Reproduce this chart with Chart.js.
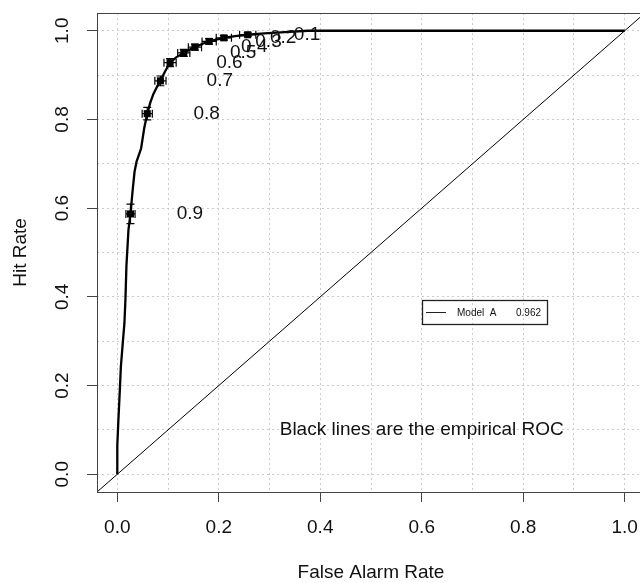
<!DOCTYPE html>
<html>
<head>
<meta charset="utf-8">
<script src="https://cdn.jsdelivr.net/npm/chart.js@4/dist/chart.umd.min.js"></script>
<style>
html,body{margin:0;padding:0;background:#fff;overflow:hidden;width:640px;height:583px;}
#wrap{position:absolute;left:0;top:0;width:660px;height:583px;}
</style>
</head>
<body>
<div id="wrap"><canvas id="c" width="660" height="583"></canvas></div>
<script>
// ---- data ----
const curveFar = [0, 0, 0.002, 0.005, 0.007, 0.011, 0.014, 0.016, 0.018, 0.022, 0.026, 0.030, 0.034, 0.038, 0.047, 0.053, 0.059, 0.065, 0.071, 0.078, 0.085, 0.094, 0.104, 0.116, 0.131, 0.142, 0.153, 0.167, 0.181, 0.195, 0.210, 0.232, 0.257, 0.290, 0.330, 0.375, 1.0];
const curveHit = [0, 0.065, 0.118, 0.190, 0.242, 0.299, 0.340, 0.393, 0.470, 0.551, 0.587, 0.637, 0.682, 0.705, 0.735, 0.780, 0.813, 0.838, 0.857, 0.873, 0.887, 0.908, 0.928, 0.940, 0.950, 0.957, 0.963, 0.970, 0.976, 0.980, 0.984, 0.988, 0.991, 0.994, 0.997, 1.0, 1.0];

const thresholdLabels = ['0.9', '0.8', '0.7', '0.6', '0.5', '0.4', '0.3', '0.2', '0.1'];
const thresholdFar = [0.026, 0.059, 0.085, 0.104, 0.131, 0.153, 0.181, 0.210, 0.257];
const thresholdHit = [0.587, 0.813, 0.887, 0.928, 0.950, 0.963, 0.976, 0.984, 0.991];
const hitLower = [0.565, 0.799, 0.876, 0.919, 0.942, 0.956, 0.970, 0.979, 0.987];
const hitUpper = [0.609, 0.827, 0.898, 0.937, 0.958, 0.970, 0.982, 0.989, 0.995];
const farLower = [0.017, 0.049, 0.074, 0.092, 0.119, 0.140, 0.167, 0.195, 0.241];
const farUpper = [0.035, 0.069, 0.096, 0.116, 0.143, 0.166, 0.195, 0.225, 0.273];

const gridTicks = [0, 0.1, 0.2, 0.3, 0.4, 0.5, 0.6, 0.7, 0.8, 0.9, 1.0];
const labelledTicks = ['0.0', '0.2', '0.4', '0.6', '0.8', '1.0'];
const axisMin = -0.04, axisMax = 1.04;
const refLine = [axisMin, axisMax];

const legendModel = 'Model  A';
const legendAuc = '0.962';
const noteText = 'Black lines are the empirical ROC';
const xTitle = 'False Alarm Rate';
const yTitle = 'Hit Rate';

// ---- styling ----
const FONT = '"Liberation Sans", Arial, sans-serif';
const TEXT = '#111';
const LABEL_DX = 0.117;

const isLabelled = v => labelledTicks.includes(Number(v).toFixed(1));
const tickLabel = v => isLabelled(v) ? Number(v).toFixed(1) : '';
const tickCol = ctx => (ctx.tick && isLabelled(ctx.tick.value)) ? '#444' : 'rgba(0,0,0,0)';

const annotate = {
  id: 'annotate',
  afterDatasetsDraw(chart) {
    const {ctx, chartArea: a, scales: {x, y}} = chart;
    ctx.save();
    // error bars
    ctx.strokeStyle = '#000';
    ctx.lineWidth = 1.2;
    const cap = 4;
    thresholdFar.forEach((f, i) => {
      const px = x.getPixelForValue(f), py = y.getPixelForValue(thresholdHit[i]);
      const y1 = y.getPixelForValue(hitLower[i]), y2 = y.getPixelForValue(hitUpper[i]);
      const x1 = x.getPixelForValue(farLower[i]), x2 = x.getPixelForValue(farUpper[i]);
      ctx.beginPath();
      ctx.moveTo(px, y1); ctx.lineTo(px, y2);
      ctx.moveTo(px - cap, y1); ctx.lineTo(px + cap, y1);
      ctx.moveTo(px - cap, y2); ctx.lineTo(px + cap, y2);
      ctx.moveTo(x1, py); ctx.lineTo(x2, py);
      ctx.moveTo(x1, py - cap); ctx.lineTo(x1, py + cap);
      ctx.moveTo(x2, py - cap); ctx.lineTo(x2, py + cap);
      ctx.stroke();
    });
    // threshold labels
    ctx.fillStyle = TEXT;
    ctx.font = '19px ' + FONT;
    ctx.textAlign = 'center';
    ctx.textBaseline = 'middle';
    thresholdLabels.forEach((t, i) => {
      ctx.fillText(t, x.getPixelForValue(thresholdFar[i] + LABEL_DX), y.getPixelForValue(thresholdHit[i]));
    });
    // note
    ctx.fillText(noteText, x.getPixelForValue(0.6), y.getPixelForValue(0.1));
    // legend box
    const lx = Math.round(x.getPixelForValue(0.6)), ly = Math.round(y.getPixelForValue(0.393));
    ctx.strokeStyle = '#222';
    ctx.lineWidth = 1.3;
    ctx.strokeRect(lx + 0.5, ly + 0.5, 125, 24);
    ctx.lineWidth = 1;
    ctx.beginPath();
    ctx.moveTo(lx + 4, ly + 12.5); ctx.lineTo(lx + 24, ly + 12.5);
    ctx.stroke();
    ctx.font = '10px ' + FONT;
    ctx.textAlign = 'left';
    ctx.fillText(legendModel, lx + 35, ly + 13);
    ctx.fillText(legendAuc, lx + 94, ly + 13);
    // plot frame
    ctx.strokeStyle = '#444';
    ctx.lineWidth = 1;
    ctx.strokeRect(Math.round(a.left) + 0.5, Math.round(a.top) + 0.5, Math.round(a.right - a.left), Math.round(a.bottom - a.top));
    ctx.restore();
  }
};

new Chart(document.getElementById('c'), {
  type: 'scatter',
  data: {
    datasets: [
      {
        label: 'reference',
        data: refLine.map((v, i) => ({x: v, y: refLine[i]})),
        showLine: true, borderColor: '#000', borderWidth: 1, pointRadius: 0, fill: false
      },
      {
        label: 'empirical ROC',
        data: curveFar.map((f, i) => ({x: f, y: curveHit[i]})),
        showLine: true, borderColor: '#000', borderWidth: 2.3, pointRadius: 0, tension: 0, fill: false
      },
      {
        label: 'thresholds',
        data: thresholdFar.map((f, i) => ({x: f, y: thresholdHit[i]})),
        showLine: false, pointStyle: 'rect', pointRadius: 5, backgroundColor: '#000', borderColor: '#000', borderWidth: 0
      }
    ]
  },
  options: {
    responsive: false,
    animation: false,
    devicePixelRatio: 1,
    events: [],
    layout: {padding: {left: 0, top: 13, right: 15, bottom: 0}},
    plugins: {legend: {display: false}, tooltip: {enabled: false}},
    scales: {
      x: {
        type: 'linear', position: 'bottom', min: axisMin, max: axisMax,
        afterBuildTicks: s => { s.ticks = gridTicks.map(v => ({value: v})); },
        afterFit: s => { s.height = 91; s.paddingLeft = 0; s.paddingRight = 0; },
        grid: {color: '#cccccc', lineWidth: 1, drawTicks: true, tickLength: 10, tickWidth: 1, tickColor: tickCol, tickBorderDash: []},
        border: {display: false, dash: [2, 3]},
        ticks: {autoSkip: false, maxRotation: 0, minRotation: 0, padding: 14, color: TEXT, font: {family: FONT, size: 19}, callback: tickLabel},
        title: {display: true, text: xTitle, color: TEXT, font: {family: FONT, size: 19, lineHeight: 1.1}, padding: {top: 0, bottom: 0}}
      },
      y: {
        type: 'linear', position: 'left', min: axisMin, max: axisMax,
        afterBuildTicks: s => { s.ticks = gridTicks.map(v => ({value: v})); },
        afterFit: s => { s.width = 97; s.paddingTop = 0; s.paddingBottom = 0; },
        grid: {color: '#cccccc', lineWidth: 1, drawTicks: true, tickLength: 10, tickWidth: 1, tickColor: tickCol, tickBorderDash: []},
        border: {display: false, dash: [2, 3]},
        ticks: {autoSkip: false, minRotation: 90, maxRotation: 90, crossAlign: 'center', padding: 11, color: TEXT, font: {family: FONT, size: 19}, callback: tickLabel},
        title: {display: true, text: yTitle, color: TEXT, font: {family: FONT, size: 19}, padding: {top: 9, bottom: 0}}
      }
    }
  },
  plugins: [annotate]
});
</script>
</body>
</html>
